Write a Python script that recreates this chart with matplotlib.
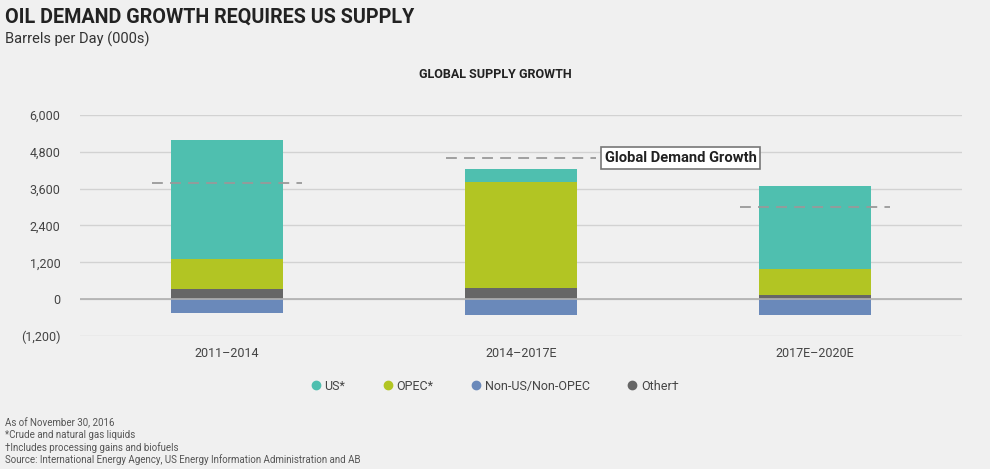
#!/usr/bin/env python3
"""Stacked bars of global oil supply growth against demand growth."""

import matplotlib
matplotlib.use("Agg")
import matplotlib.pyplot as plt
from matplotlib.lines import Line2D
import numpy as np

periods = ["2011\u20132014", "2014\u20132017E", "2017E\u20132020E"]
other = [330, 380, 150]
opec = [970, 3450, 840]
us = [3900, 400, 2710]
non_us_non_opec = [-450, -520, -530]
demand_growth = [3800, 4600, 3000]

y_ticks = [-1200, 0, 1200, 2400, 3600, 4800, 6000]
y_tick_labels = ["(1,200)", "0", "1,200", "2,400", "3,600", "4,800", "6,000"]

C_US = "#4fbfaf"
C_OPEC = "#b2c523"
C_NON = "#6a89ba"
C_OTHER = "#666666"
BG = "#f0f0f0"

plt.rcParams["font.family"] = ["Roboto", "DejaVu Sans"]


def main():
    fig = plt.figure(figsize=(9.9, 4.69), dpi=100, facecolor=BG)
    ax = fig.add_axes([80 / 990, 1 - 336 / 469, 882 / 990, 221 / 469])
    ax.set_facecolor(BG)

    x = np.arange(len(periods))
    w = 0.38
    other_a = np.array(other)
    opec_a = np.array(opec)
    ax.bar(x, other, w, color=C_OTHER, zorder=3)
    ax.bar(x, opec, w, bottom=other_a, color=C_OPEC, zorder=3)
    ax.bar(x, us, w, bottom=other_a + opec_a, color=C_US, zorder=3)
    ax.bar(x, non_us_non_opec, w, color=C_NON, zorder=3)

    for xi, d in zip(x, demand_growth):
        ax.hlines(d, xi - 0.255, xi + 0.255, colors="#999999", lw=1.3,
                  linestyles=(0, (6, 4)), zorder=4)

    ax.annotate("Global Demand Growth", xy=(x[1] + 0.285, demand_growth[1]),
                ha="left", va="center", fontsize=10.6, fontweight="bold",
                color="#222222", zorder=5,
                bbox=dict(boxstyle="square,pad=0.25", fc="white",
                          ec="#777777", lw=1.2))

    ax.set_xlim(-0.5, 2.5)
    ax.set_ylim(-1200, 6000)
    ax.set_yticks(y_ticks)
    ax.set_yticklabels(y_tick_labels)
    ax.set_xticks(x)
    ax.set_xticklabels(periods)
    ax.tick_params(length=0, labelsize=9, colors="#444444")
    ax.tick_params(axis="y", pad=14)
    ax.tick_params(axis="x", pad=8)
    ax.grid(axis="y", color="#d2d2d2", lw=1, zorder=0)
    ax.axhline(0, color="#b0b0b0", lw=1.2, zorder=3.5)
    for s in ax.spines.values():
        s.set_visible(False)

    fig.text(5 / 990, 1 - 17 / 469, "OIL DEMAND GROWTH REQUIRES US SUPPLY",
             fontsize=14.2, fontweight="bold", color="#222222", va="center")
    fig.text(5 / 990, 1 - 39 / 469, "Barrels per Day (000s)",
             fontsize=10.5, color="#333333", va="center")
    fig.text(495 / 990, 1 - 74 / 469, "GLOBAL SUPPLY GROWTH",
             fontsize=9, fontweight="bold", color="#222222",
             ha="center", va="center")

    handles = [Line2D([], [], marker="o", ls="", color=c, markersize=6)
               for c in (C_US, C_OPEC, C_NON, C_OTHER)]
    labels = ["US*", "OPEC*", "Non-US/Non-OPEC", "Other\u2020"]
    leg = fig.legend(handles, labels, loc="center", ncol=4,
                     bbox_to_anchor=(494 / 990, 1 - 386 / 469), frameon=False,
                     fontsize=9, handletextpad=0.2, columnspacing=2.9,
                     handlelength=1)
    for t in leg.get_texts():
        t.set_color("#444444")

    notes = ["As of November 30, 2016",
             "*Crude and natural gas liquids",
             "\u2020Includes processing gains and biofuels",
             "Source: International Energy Agency, US Energy Information "
             "Administration and AB"]
    for i, n in enumerate(notes):
        fig.text(5 / 990, 1 - (423 + 12.3 * i) / 469, n, fontsize=7,
                 color="#555555", va="center")

    fig.savefig("out.png", dpi=100, facecolor=BG)


if __name__ == "__main__":
    main()
